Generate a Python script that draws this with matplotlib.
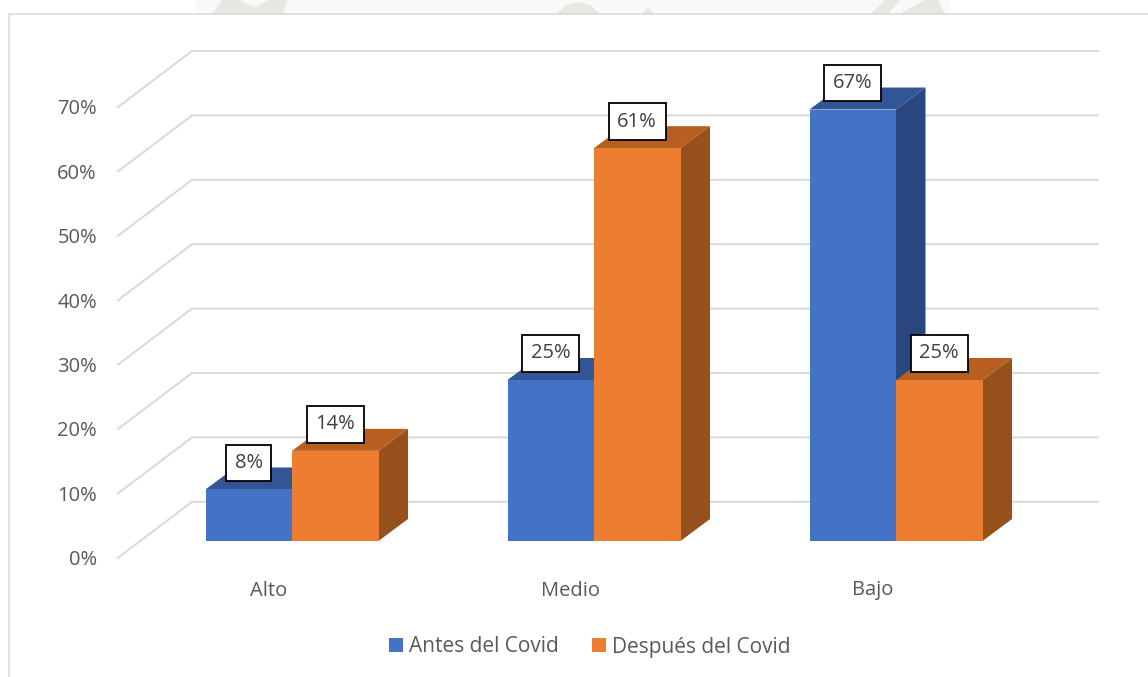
import matplotlib
matplotlib.use("Agg")
import matplotlib.pyplot as plt
from matplotlib.patches import Patch, Polygon
from matplotlib.lines import Line2D

plt.rcParams['font.family'] = ['Open Sans', 'DejaVu Sans']

# -------------------- data --------------------
categories = ['Alto', 'Medio', 'Bajo']
antes = [8, 25, 67]
despues = [14, 61, 25]
series_names = ['Antes del Covid', 'Después del Covid']
y_ticks = [0, 10, 20, 30, 40, 50, 60, 70]

# -------------------- layout (pixels of the 1148x677 picture) --------------------
W, H = 1148, 677
PX_PER_CAT = 302.0
PX_PER_PCT = 6.44
X0_PX = 292.0      # middle of the first group
Y0_PX = 557.8      # 0% on the front edge of the wall

BAR_W = 86.5 / PX_PER_CAT
BAR_BASE = (Y0_PX - 541.0) / PX_PER_PCT
BAR_DX = 29.5 / PX_PER_CAT
BAR_DY = 22.0 / PX_PER_PCT
WALL_DX = 74.0 / PX_PER_CAT
WALL_DY = 56.0 / PX_PER_PCT
WALL_LEFT = (118.0 - X0_PX) / PX_PER_CAT
WALL_RIGHT = (1098.0 - X0_PX) / PX_PER_CAT
FS = 14.5

BLUE = ('#4472C4', '#325595', '#2A4680')
ORANGE = ('#ED7D31', '#B65F21', '#96501C')
GRID = '#D9D9D9'
TEXT = '#595959'

fig = plt.figure(figsize=(W / 100, H / 100), dpi=100, facecolor='white')
ax = fig.add_axes([0, 0, 1, 1])
ax.set_xlim(-X0_PX / PX_PER_CAT, (W - X0_PX) / PX_PER_CAT)
ax.set_ylim((Y0_PX - H) / PX_PER_PCT, Y0_PX / PX_PER_PCT)
ax.axis('off')


def frac(px, py):
    return px / W, 1 - py / H


# faint watermark peeking out above the chart
ax.add_patch(Polygon([frac(*p) for p in [(196, 14), (196, 0), (950, 0), (950, 14)]], closed=True,
                     transform=ax.transAxes, fc='#F8F9F8', ec='none', zorder=0))
for pts in [[(212, 14), (222, 0), (240, 0), (255, 8), (268, 0), (288, 0), (282, 14)],
            [(556, 14), (566, 5), (578, 2), (590, 5), (600, 14)],
            [(642, 14), (648, 7), (654, 14)],
            [(870, 14), (885, 0), (900, 0), (888, 14)],
            [(900, 14), (925, 0), (938, 0), (945, 14)]]:
    ax.add_patch(Polygon([frac(*p) for p in pts], closed=True, transform=ax.transAxes,
                         fc='#E6E9E2', ec='none', zorder=0))

# chart frame: only left and top are visible
ax.add_line(Line2D(*zip(frac(9, H), frac(9, 14), frac(W, 14)), transform=ax.transAxes,
                   color=GRID, lw=1.1, solid_joinstyle='miter', zorder=1))

# wall gridlines and tick labels
for t in y_ticks:
    ax.plot([WALL_LEFT, WALL_LEFT + WALL_DX, WALL_RIGHT],
            [t, t + WALL_DY, t + WALL_DY], color=GRID, lw=1.4, zorder=1,
            solid_joinstyle='miter')
    ax.text((97 - X0_PX) / PX_PER_CAT, t, f'{t}%', ha='right', va='center_baseline',
            fontsize=FS, color=TEXT)


def bar3d(x, val, cols, z):
    left, right = x, x + BAR_W
    bottom, top = BAR_BASE, BAR_BASE + val
    ax.add_patch(Polygon([(right, bottom), (right + BAR_DX, bottom + BAR_DY),
                          (right + BAR_DX, top + BAR_DY), (right, top)],
                         fc=cols[2], ec='none', zorder=z))
    ax.add_patch(Polygon([(left, top), (left + BAR_DX, top + BAR_DY),
                          (right + BAR_DX, top + BAR_DY), (right, top)],
                         fc=cols[1], ec='none', zorder=z))
    ax.add_patch(Polygon([(left, bottom), (right, bottom), (right, top), (left, top)],
                         fc=cols[0], ec='none', zorder=z + 0.1))


def value_label(x, val):
    ax.annotate(f'{val}%', xy=(x + BAR_W / 2, BAR_BASE + val), xytext=(0, 29),
                textcoords='offset pixels', ha='center', va='center_baseline',
                fontsize=FS, color='#404040', zorder=10,
                bbox=dict(boxstyle='square,pad=0.42', fc='white', ec='black', lw=1.3))


for i, cat in enumerate(categories):
    bar3d(i - BAR_W, antes[i], BLUE, 3)
    bar3d(i, despues[i], ORANGE, 4)
    ax.text(i - 23.5 / PX_PER_CAT, (Y0_PX - 595.5) / PX_PER_PCT, cat, ha='center',
            va='baseline', fontsize=FS, color=TEXT)

for i in range(len(categories)):
    value_label(i - BAR_W, antes[i])
    value_label(i, despues[i])

handles = [Patch(fc=BLUE[0], ec='none', label=series_names[0]),
           Patch(fc=ORANGE[0], ec='none', label=series_names[1])]
ax.legend(handles=handles, loc='center', bbox_to_anchor=(589.5 / W, 1 - 647 / H), ncol=2,
          frameon=False, fontsize=15, labelcolor=TEXT, handlelength=0.67, handleheight=0.67,
          handletextpad=0.29, columnspacing=1.6, borderpad=0, borderaxespad=0)

fig.savefig('out.png', dpi=100)
